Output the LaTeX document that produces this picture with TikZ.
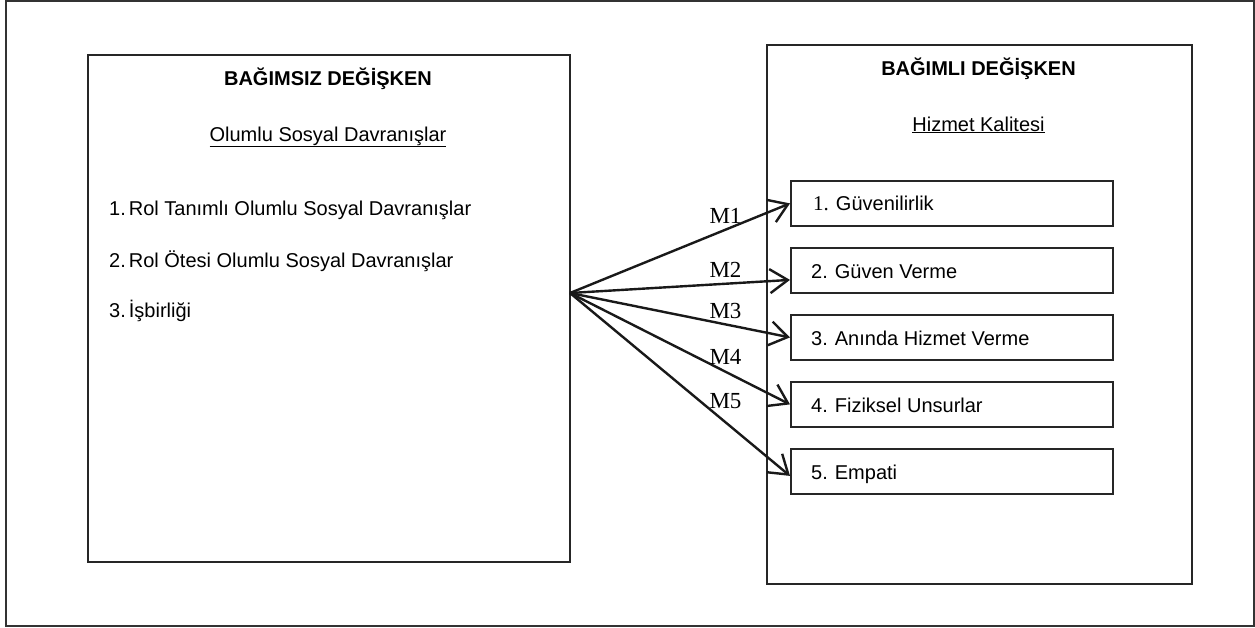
\documentclass[tikz,border=0pt]{standalone}
\usepackage{fontspec}
\setmainfont{Liberation Sans}
\newfontfamily\tnr{Liberation Serif}
\usetikzlibrary{arrows.meta}
\begin{document}
\begin{tikzpicture}[x=1pt,y=-1pt,
  frame/.style={draw=black!80,line width=1.6pt},
  bigbox/.style={draw=black!85,line width=2pt},
  smallbox/.style={draw=black!85,line width=1.8pt,minimum width=322pt,minimum height=45pt,anchor=north west,inner sep=0pt},
  txt/.style={font=\fontsize{20}{24}\selectfont,inner sep=0pt},
  hdr/.style={font=\fontsize{20}{24}\selectfont\bfseries,inner sep=0pt,anchor=base},
  mlab/.style={font=\fontsize{23}{27}\selectfont\tnr,inner sep=0pt,anchor=base},
  arr/.style={line width=2.4pt,black!90,-{Straight Barb[length=18pt,width=24pt,line width=2.4pt]}}
]
\useasboundingbox (0,0) rectangle (1255,627);
\draw[frame] (6,1) rectangle (1254,626);
% left box
\node[bigbox,minimum width=482pt,minimum height=507pt,anchor=north west,inner sep=0pt] (L) at (87,54) {};
\node[hdr] (Lh) at (328,85) {BAĞIMSIZ DEĞİŞKEN};
\node[txt,anchor=base] (Ls) at (328,141) {\underline{Olumlu Sosyal Davranışlar}};
\node[txt,anchor=base west] (i1) at (109,215) {1.\kern3pt Rol Tanımlı Olumlu Sosyal Davranışlar};
\node[txt,anchor=base west] (i2) at (109,267) {2.\kern3pt Rol Ötesi Olumlu Sosyal Davranışlar};
\node[txt,anchor=base west] (i3) at (109,317) {3.\kern3pt İşbirliği};
% right box
\node[bigbox,minimum width=425pt,minimum height=539pt,anchor=north west,inner sep=0pt] (R) at (766,44) {};
\node[hdr] (Rh) at (978.5,75) {BAĞIMLI DEĞİŞKEN};
\node[txt,anchor=base] (Rs) at (978.5,131) {\underline{Hizmet Kalitesi}};
% small boxes
\node[smallbox] (b1) at (790,180) {};
\node[smallbox] (b2) at (790,247) {};
\node[smallbox] (b3) at (790,314) {};
\node[smallbox] (b4) at (790,381) {};
\node[smallbox] (b5) at (790,448) {};
\node[txt,anchor=base west] (t1) at (813,210) {{\tnr\fontsize{21}{24}\selectfont 1.}\kern7pt Güvenilirlik};
\node[txt,anchor=base west] (t2) at (811,278) {2.\kern7pt Güven Verme};
\node[txt,anchor=base west] (t3) at (811,345) {3.\kern7pt Anında Hizmet Verme};
\node[txt,anchor=base west] (t4) at (811,412) {4.\kern7pt Fiziksel Unsurlar};
\node[txt,anchor=base west] (t5) at (811,479) {5.\kern7pt Empati};
% arrows
\coordinate (src) at (570,293);
\draw[arr] (src) -- (b1.west);
\draw[arr] (src) -- ([yshift=-9.5pt]b2.west);
\draw[arr] (src) -- (b3.west);
\draw[arr] (src) -- (b4.west);
\draw[arr] (src) -- ([yshift=-4.5pt]b5.west);
% labels
\node[mlab] (m1) at (725.5,223) {M1};
\node[mlab] (m2) at (725.5,277) {M2};
\node[mlab] (m3) at (725.5,318) {M3};
\node[mlab] (m4) at (725.5,364) {M4};
\node[mlab] (m5) at (725.5,408) {M5};
\end{tikzpicture}
\end{document}
